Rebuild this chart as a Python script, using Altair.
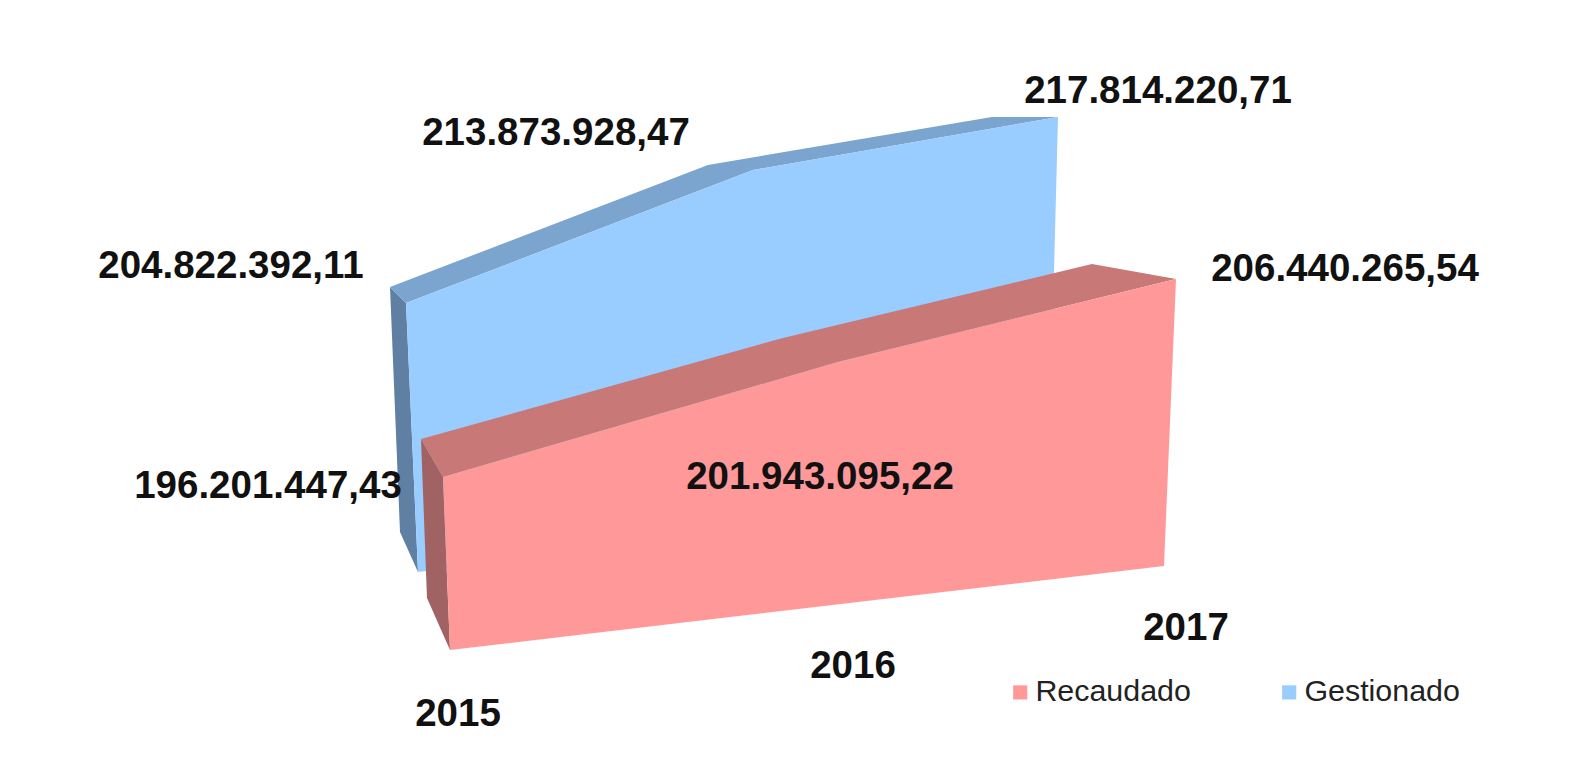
import altair as alt
import pandas as pd

# Series values as printed on the chart
years = ["2015", "2016", "2017"]
series_names = ["Recaudado", "Gestionado"]
gestionado_labels = ["204.822.392,11", "213.873.928,47", "217.814.220,71"]
recaudado_labels = ["196.201.447,43", "201.943.095,22", "206.440.265,54"]

# Outline of each 3D face, in scene units
blue_side_x = [390, 406, 418, 400]
blue_side_y = [287, 303, 572, 532]
blue_top_x = [390, 708, 992, 1058, 753, 406]
blue_top_y = [287, 165, 117, 117, 170, 303]
blue_front_x = [406, 753, 1058, 1054, 1045, 418]
blue_front_y = [303, 170, 117, 272, 500, 572]
pink_side_x = [421, 443, 450, 427]
pink_side_y = [439, 477, 650, 598]
pink_top_x = [421, 783, 1092, 1176, 838, 443]
pink_top_y = [439, 338, 264, 279, 362, 477]
pink_front_x = [443, 838, 1176, 1164, 450]
pink_front_y = [477, 362, 279, 566, 650]

# Label anchors in scene units
gest_label_x = [231, 556, 1158]
gest_label_y = [266, 133, 91]
reca_label_x = [268, 820, 1345]
reca_label_y = [486, 477, 269]
year_label_x = [458, 853, 1186]
year_label_y = [714, 666, 628]

faces = [
    (blue_side_x, blue_side_y, "#5F7FA3"),
    (blue_top_x, blue_top_y, "#7BA4CF"),
    (blue_front_x, blue_front_y, "#99CCFF"),
    (pink_side_x, pink_side_y, "#A06262"),
    (pink_top_x, pink_top_y, "#C97878"),
    (pink_front_x, pink_front_y, "#FF9999"),
]

X = alt.X("x:Q", scale=alt.Scale(domain=[8, 1575], nice=False, zero=False), axis=None)
Y = alt.Y("y:Q", scale=alt.Scale(domain=[749, 8], nice=False, zero=False), axis=None)

layers = []
for fx, fy, colour in faces:
    df = pd.DataFrame({"x": fx, "y": fy, "i": range(len(fx))})
    layers.append(
        alt.Chart(df)
        .mark_line(filled=True, fill=colour, strokeWidth=0, clip=False)
        .encode(x=X, y=Y, order="i:Q")
    )

# Real legend, carried by an invisible layer
legend_df = pd.DataFrame({"x": [1300, 1300], "y": [700, 700], "s": series_names})
layers.append(
    alt.Chart(legend_df)
    .mark_square(size=0, opacity=1)
    .encode(
        x=X,
        y=Y,
        color=alt.Color(
            "s:N",
            scale=alt.Scale(domain=series_names, range=["#FF9999", "#99CCFF"]),
            legend=alt.Legend(
                title=None,
                orient="none",
                legendX=997,
                legendY=669,
                direction="horizontal",
                symbolType="square",
                symbolSize=200,
                symbolOpacity=1,
                symbolStrokeWidth=0,
                labelFont="Liberation Sans",
                labelFontSize=30.4,
                labelColor="#222222",
                labelLimit=300,
                labelOffset=0,
                columnPadding=83,
            ),
        ),
    )
)

text_df = pd.DataFrame(
    {
        "x": gest_label_x + reca_label_x + year_label_x,
        "y": gest_label_y + reca_label_y + year_label_y,
        "t": gestionado_labels + recaudado_labels + years,
    }
)
layers.append(
    alt.Chart(text_df)
    .mark_text(
        font="Liberation Sans",
        fontWeight="bold",
        fontSize=38.5,
        color="#111111",
        align="center",
        baseline="middle",
    )
    .encode(x=X, y=Y, text="t:N")
)

chart = (
    alt.layer(*layers)
    .properties(width=1567, height=741, autosize=alt.AutoSizeParams(type="none"), padding=0)
    .configure_view(stroke=None)
)
chart.save("out.html", embed_options={"renderer": "svg", "actions": False})
